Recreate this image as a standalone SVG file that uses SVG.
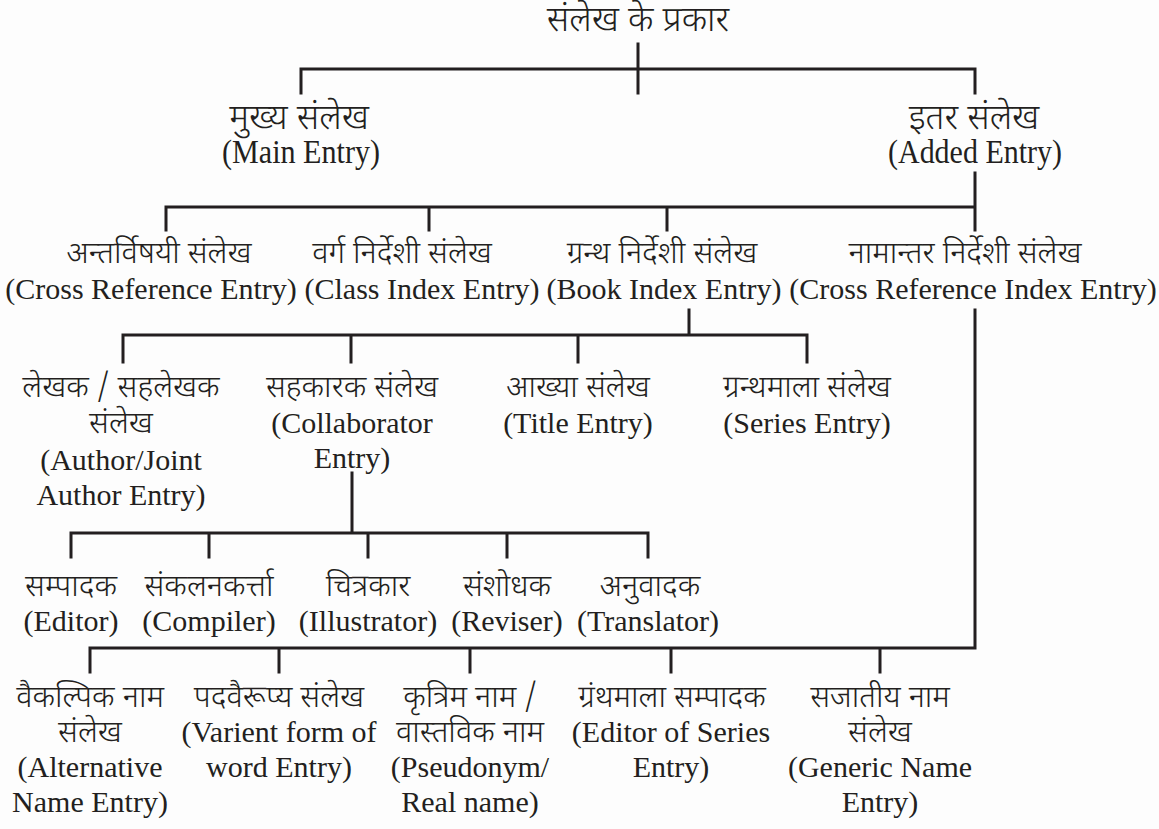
<svg xmlns="http://www.w3.org/2000/svg" width="1159" height="829" viewBox="0 0 1159 829">
<style>
.bg{fill:#fdfdfd}
.c{stroke:#231f20;stroke-width:3;fill:none;stroke-linecap:square}
text{fill:#231f20;text-anchor:middle}
.e{font-family:"Liberation Serif","Times New Roman",serif;font-size:30px}
.e1{font-family:"Liberation Serif","Times New Roman",serif;font-size:34px}
.h{font-family:"Noto Sans Devanagari","Noto Serif Devanagari","Lohit Devanagari","Liberation Serif",serif;font-size:31px;font-weight:300}
.h1{font-family:"Noto Sans Devanagari","Noto Serif Devanagari","Lohit Devanagari","Liberation Serif",serif;font-size:35px;font-weight:300}
</style>
<rect class="bg" width="1159" height="829"/>
<g id="connectors">
<path class="c" d="M638,44V93 M301,69H975 M301,69V93 M975,69V93"/>
<path class="c" d="M975,173V230 M166,207H975 M166,207V230 M429,207V230 M667,207V230"/>
<path class="c" d="M689,310V335 M123,335H807 M123,335V362 M351,335V362 M578,335V362 M807,335V362"/>
<path class="c" d="M975,310V648 M90,648H975 M90,648V672 M279,648V672 M470,648V672 M671,648V672 M880,648V672"/>
<path class="c" d="M352,473V533 M71,533H648 M71,533V557 M209,533V557 M368,533V557 M507,533V557 M648,533V557"/>
</g>
<g id="root"><text class="h1" x="638" y="31" font-size="34">संलेख के प्रकार</text></g>
<g id="main"><text class="h1" x="299" y="129">मुख्य संलेख</text><text class="e1" x="301" y="163" textLength="158" lengthAdjust="spacingAndGlyphs">(Main Entry)</text></g>
<g id="added"><text class="h1" x="974" y="129">इतर संलेख</text><text class="e1" x="975" y="163" textLength="174" lengthAdjust="spacingAndGlyphs">(Added Entry)</text></g>
<g id="cross"><text class="h" x="159" y="263">अन्तर्विषयी संलेख</text><text class="e" x="151" y="299">(Cross Reference Entry)</text></g>
<g id="class"><text class="h" x="402" y="263">वर्ग निर्देशी संलेख</text><text class="e" x="422" y="299">(Class Index Entry)</text></g>
<g id="book"><text class="h" x="662" y="263">ग्रन्थ निर्देशी संलेख</text><text class="e" x="664" y="299">(Book Index Entry)</text></g>
<g id="crossindex"><text class="h" x="965" y="263">नामान्तर निर्देशी संलेख</text><text class="e" x="973" y="299">(Cross Reference Index Entry)</text></g>
<g id="author"><text class="h" x="121" y="397">लेखक / सहलेखक</text><text class="h" x="121" y="433">संलेख</text><text class="e" x="121" y="470">(Author/Joint</text><text class="e" x="121" y="505">Author Entry)</text></g>
<g id="collab"><text class="h" x="352" y="397">सहकारक संलेख</text><text class="e" x="352" y="433">(Collaborator</text><text class="e" x="352" y="468">Entry)</text></g>
<g id="title"><text class="h" x="578" y="397">आख्या संलेख</text><text class="e" x="578" y="433">(Title Entry)</text></g>
<g id="series"><text class="h" x="807" y="397">ग्रन्थमाला संलेख</text><text class="e" x="807" y="433">(Series Entry)</text></g>
<g id="editor"><text class="h" x="71" y="596">सम्पादक</text><text class="e" x="71" y="631">(Editor)</text></g>
<g id="compiler"><text class="h" x="209" y="596">संकलनकर्त्ता</text><text class="e" x="209" y="631">(Compiler)</text></g>
<g id="illustrator"><text class="h" x="368" y="596">चित्रकार</text><text class="e" x="368" y="631">(Illustrator)</text></g>
<g id="reviser"><text class="h" x="507" y="596">संशोधक</text><text class="e" x="507" y="631">(Reviser)</text></g>
<g id="translator"><text class="h" x="650" y="596">अनुवादक</text><text class="e" x="648" y="631">(Translator)</text></g>
<g id="alternative"><text class="h" x="90" y="707">वैकल्पिक नाम</text><text class="h" x="90" y="742">संलेख</text><text class="e" x="90" y="777">(Alternative</text><text class="e" x="90" y="812">Name Entry)</text></g>
<g id="varient"><text class="h" x="279" y="707">पदवैरूप्य संलेख</text><text class="e" x="279" y="742">(Varient form of</text><text class="e" x="279" y="777">word Entry)</text></g>
<g id="pseudonym"><text class="h" x="470" y="707">कृत्रिम नाम /</text><text class="h" x="470" y="742">वास्तविक नाम</text><text class="e" x="470" y="777">(Pseudonym/</text><text class="e" x="470" y="812">Real name)</text></g>
<g id="serieseditor"><text class="h" x="672" y="707">ग्रंथमाला सम्पादक</text><text class="e" x="671" y="742">(Editor of Series</text><text class="e" x="671" y="777">Entry)</text></g>
<g id="generic"><text class="h" x="880" y="707">सजातीय नाम</text><text class="h" x="880" y="742">संलेख</text><text class="e" x="880" y="777">(Generic Name</text><text class="e" x="880" y="812">Entry)</text></g>
</svg>
